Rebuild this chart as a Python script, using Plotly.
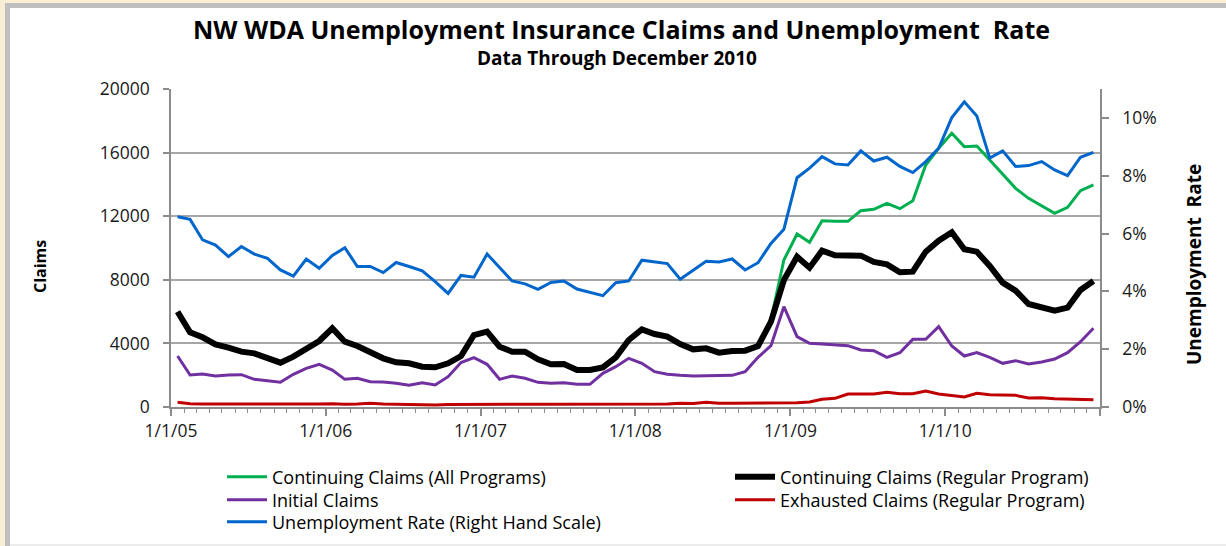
import pandas as pd
import plotly.graph_objects as go

# ---------------- data (monthly, Jan 2005 - Dec 2010) ----------------
months = pd.date_range("2005-01-01", periods=72, freq="MS").strftime("%Y-%m-%d").tolist()

continuing_regular = [
    5995, 4697, 4382, 3942, 3733, 3480, 3375, 3061, 2789, 3166, 3627, 4150,
    4949, 4108, 3837, 3480, 3061, 2810, 2747, 2537, 2495, 2747, 3200, 4529,
    4738, 3795, 3480, 3480, 3000, 2684, 2705, 2327, 2327, 2495, 3124, 4213,
    4885, 4591, 4423, 3963, 3627, 3690, 3417, 3522, 3543, 3837, 5367, 7988,
    9455, 8762, 9833, 9539, 9560, 9518, 9120, 8973, 8470, 8512, 9770, 10462,
    10986, 9917, 9770, 8868, 7821, 7317, 6479, 6311, 6060, 6248, 7359, 7925,
]
continuing_all = [
    5995, 4697, 4382, 3942, 3733, 3480, 3375, 3061, 2789, 3166, 3627, 4150,
    4949, 4108, 3837, 3480, 3061, 2810, 2747, 2537, 2495, 2747, 3200, 4529,
    4738, 3795, 3480, 3480, 3000, 2684, 2705, 2327, 2327, 2495, 3124, 4213,
    4885, 4591, 4423, 3963, 3627, 3690, 3417, 3522, 3543, 3837, 5500, 9246,
    10882, 10357, 11717, 11680, 11680, 12347, 12431, 12808, 12473, 12976, 15222, 16271,
    17216, 16375, 16417, 15536, 14656, 13753, 13124, 12662, 12180, 12557, 13606, 13964,
]
initial_claims = [
    3208, 2013, 2076, 1950, 2013, 2034, 1740, 1656, 1552, 2055, 2432, 2684,
    2327, 1740, 1803, 1594, 1573, 1488, 1362, 1530, 1384, 1908, 2800, 3103,
    2684, 1740, 1950, 1803, 1552, 1488, 1530, 1426, 1426, 2118, 2537, 3061,
    2747, 2222, 2055, 1992, 1950, 1971, 1992, 1992, 2222, 3124, 3858, 6311,
    4423, 4003, 3963, 3900, 3858, 3585, 3543, 3124, 3417, 4255, 4255, 5053,
    3837, 3208, 3417, 3124, 2747, 2914, 2705, 2831, 3019, 3417, 4108, 4949,
]
exhausted_claims = [
    293, 210, 190, 190, 190, 190, 150, 190, 150, 190, 170, 190,
    210, 170, 190, 230, 190, 170, 150, 126, 126, 150, 160, 170,
    170, 170, 170, 170, 170, 170, 170, 170, 170, 190, 190, 190,
    190, 190, 190, 230, 220, 300, 240, 240, 240, 250, 260, 272,
    272, 314, 482, 545, 818, 818, 818, 922, 838, 838, 1006, 818,
    733, 629, 859, 775, 754, 733, 566, 587, 524, 503, 524, 461,
]
unemployment_rate = [
    6.58, 6.49, 5.78, 5.60, 5.20, 5.55, 5.29, 5.14, 4.74, 4.53, 5.12, 4.80,
    5.24, 5.51, 4.86, 4.86, 4.65, 5.00, 4.86, 4.71, 4.34, 3.93, 4.55, 4.49,
    5.29, 4.82, 4.36, 4.26, 4.07, 4.31, 4.36, 4.08, 3.96, 3.85, 4.30, 4.36,
    5.08, 5.03, 4.96, 4.42, 4.72, 5.04, 5.02, 5.12, 4.74, 4.99, 5.66, 6.15,
    7.93, 8.26, 8.66, 8.41, 8.37, 8.86, 8.51, 8.64, 8.32, 8.11, 8.49, 8.95,
    10.01, 10.56, 10.07, 8.61, 8.86, 8.32, 8.35, 8.49, 8.20, 8.00, 8.64, 8.81,
]

year_ticks = ["2005-01-01", "2006-01-01", "2007-01-01", "2008-01-01",
              "2009-01-01", "2010-01-01", "2011-01-01"]
year_labels = ["1/1/05", "1/1/06", "1/1/07", "1/1/08", "1/1/09", "1/1/10", ""]
claims_ticks = [0, 4000, 8000, 12000, 16000, 20000]
rate_ticks = [0, 2, 4, 6, 8, 10]
rate_labels = ["0%", "2%", "4%", "6%", "8%", "10%"]

# ---------------- layout geometry ----------------
W, H = 1226, 546
L, R, T, B = 171, 1100, 89, 407
PW, PH = R - L, B - T


def px(x):
    return (x - L) / PW


def py(y):
    return (B - y) / PH


FONT = "Open Sans"
GREEN, BLACK, PURPLE, RED, BLUE = "#00B050", "#000000", "#7030A0", "#C00000", "#0066CC"

fig = go.Figure()
common = dict(x=months, xperiod="M1", xperiodalignment="middle", mode="lines", showlegend=True)
fig.add_trace(go.Scatter(y=continuing_all, name="Continuing Claims (All Programs)",
                         line=dict(color=GREEN, width=3), legend="legend", **common))
fig.add_trace(go.Scatter(y=continuing_regular, name="Continuing Claims (Regular Program)",
                         line=dict(color=BLACK, width=6), legend="legend2", **common))
fig.add_trace(go.Scatter(y=initial_claims, name="Initial Claims",
                         line=dict(color=PURPLE, width=3), legend="legend3", **common))
fig.add_trace(go.Scatter(y=exhausted_claims, name="Exhausted Claims (Regular Program)",
                         line=dict(color=RED, width=3), legend="legend4", **common))
fig.add_trace(go.Scatter(y=unemployment_rate, name="Unemployment Rate (Right Hand Scale)",
                         line=dict(color=BLUE, width=3), legend="legend5", yaxis="y2", **common))

axis_grey = "#8C8C8C"
tickfont = dict(family=FONT, size=17.5, color="#1a1a1a")

shapes = [
    # outer frame: beige strips + grey band
    dict(type="rect", xref="paper", yref="paper", x0=px(0), x1=px(W), y0=py(0), y1=py(3),
         fillcolor="#FDEFD3", line_width=0, layer="below"),
    dict(type="rect", xref="paper", yref="paper", x0=px(0), x1=px(5), y0=py(0), y1=py(H),
         fillcolor="#F7EDD4", line_width=0, layer="below"),
    dict(type="rect", xref="paper", yref="paper", x0=px(5), x1=px(W), y0=py(3), y1=py(8),
         fillcolor="#BFBFBF", line_width=0, layer="below"),
    dict(type="rect", xref="paper", yref="paper", x0=px(5), x1=px(10), y0=py(3), y1=py(H),
         fillcolor="#BFBFBF", line_width=0, layer="below"),
    dict(type="line", xref="paper", yref="paper", x0=px(10), x1=px(W), y0=py(545), y1=py(545),
         line=dict(color="#D9D9D9", width=1), layer="below"),
]

annotations = [
    dict(text="<b>NW WDA Unemployment Insurance Claims and Unemployment  Rate</b>",
         x=px(621), y=py(29), xref="paper", yref="paper", showarrow=False,
         xanchor="center", yanchor="middle", font=dict(family=FONT, size=25, color="#000")),
    dict(text="<b>Data Through December 2010</b>",
         x=px(617), y=py(58), xref="paper", yref="paper", showarrow=False,
         xanchor="center", yanchor="middle", font=dict(family=FONT, size=19, color="#000")),
    dict(text="<b>Claims</b>", textangle=-90,
         x=px(40), y=py(267), xref="paper", yref="paper", showarrow=False,
         xanchor="center", yanchor="middle", font=dict(family=FONT, size=16, color="#000")),
    dict(text="<b>Unemployment  Rate</b>", textangle=-90,
         x=px(1194), y=py(265), xref="paper", yref="paper", showarrow=False,
         xanchor="center", yanchor="middle", font=dict(family=FONT, size=19, color="#000")),
]

legend_common = dict(orientation="v", xanchor="left", yanchor="middle", bgcolor="rgba(0,0,0,0)",
                     font=dict(family=FONT, size=18, color="#000"), itemwidth=40,
                     tracegroupgap=0, xref="paper", yref="paper", visible=True)

COL1, COL2 = 222, 730
ROW1, ROW2, ROW3 = 477, 500, 522

fig.update_layout(
    width=W, height=H, showlegend=True,
    margin=dict(l=L, r=W - R, t=T, b=H - B, pad=0, autoexpand=False),
    paper_bgcolor="white", plot_bgcolor="white",
    font=dict(family=FONT, color="#000"),
    shapes=shapes, annotations=annotations,
    legend=dict(x=px(COL1), y=py(ROW1), **legend_common),
    legend2=dict(x=px(COL2), y=py(ROW1), **legend_common),
    legend3=dict(x=px(COL1), y=py(ROW2), **legend_common),
    legend4=dict(x=px(COL2), y=py(ROW2), **legend_common),
    legend5=dict(x=px(COL1), y=py(ROW3), **legend_common),
    xaxis=dict(type="date", range=["2005-01-01", "2011-01-01"],
               tickmode="array", tickvals=year_ticks, ticktext=year_labels,
               ticks="outside", ticklen=7, tickwidth=1.5, tickcolor=axis_grey,
               showline=True, linecolor=axis_grey, linewidth=1.5,
               showgrid=False, zeroline=False, tickfont=tickfont, automargin=False,
               minor=dict(ticks="outside", ticklen=4, tickwidth=1, tickcolor=axis_grey,
                          dtick="M1", tick0="2005-01-01", showgrid=False)),
    yaxis=dict(range=[0, 20000], tickmode="array", tickvals=claims_ticks, tickformat="d",
               ticks="outside", ticklen=6, tickwidth=1.5, tickcolor=axis_grey,
               showline=True, linecolor=axis_grey, linewidth=1.5,
               showgrid=True, gridcolor="#A6A6A6", gridwidth=1.5, zeroline=False,
               tickfont=tickfont, ticklabelstandoff=10, automargin=False),
    yaxis2=dict(range=[0, 11], overlaying="y", side="right", tickmode="array",
                tickvals=rate_ticks, ticktext=rate_labels,
                ticks="outside", ticklen=7, tickwidth=1.5, tickcolor=axis_grey,
                showline=True, linecolor=axis_grey, linewidth=1.5,
                showgrid=False, zeroline=False, tickfont=tickfont, ticklabelstandoff=10,
                automargin=False),
)

fig.write_html("out.html", config={"displayModeBar": False},
               post_script="document.body.style.margin='0';document.body.style.overflow='hidden';")
